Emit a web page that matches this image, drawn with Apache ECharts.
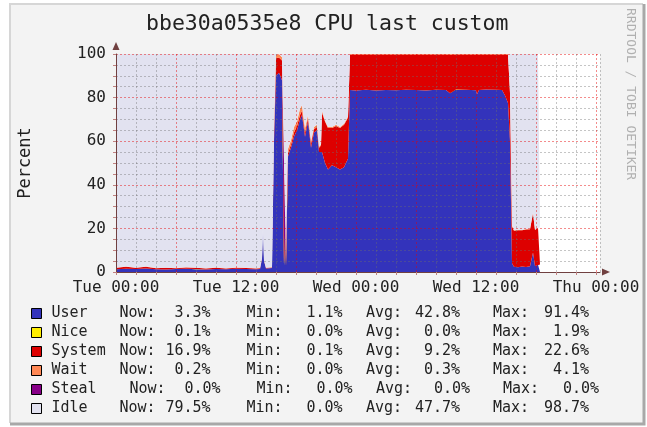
<!DOCTYPE html>
<html>
<head>
<meta charset="utf-8">
<script src="https://cdn.jsdelivr.net/npm/echarts@6/dist/echarts.min.js"></script>
<style>
  html, body, #main { width: 100%; height: 100%; margin: 0; }
</style>
</head>
<body>
<div id="main"></div>
<script>
// hours since Tue 00:00
var hours = [
  0, 1, 2, 3, 4, 5, 6, 7, 8, 9,
  10, 11, 12, 13, 14, 14.4, 14.6, 14.7, 14.8, 15.0,
  15.6, 15.8, 16.0, 16.3, 16.6, 16.8, 17.0, 17.2, 17.5, 17.8,
  18.1, 18.4, 18.6, 18.9, 19.2, 19.5, 19.8, 20.1, 20.3, 20.5,
  20.6, 20.9, 21.2, 21.6, 22.0, 22.4, 22.8, 23.1, 23.2, 23.4,
  24, 25, 26, 27, 28, 29, 30, 31, 32, 33,
  33.4, 33.8, 34, 35, 36, 36.1, 36.3, 37, 38, 38.6,
  38.9, 39.2, 39.4, 39.6, 39.8, 40.2, 40.6, 41.0, 41.4, 41.7,
  41.9, 42.2, 42.4
];
var user = [
  1.3, 1.5, 1.4, 1.6, 1.3, 1.2, 1.4, 1.5, 1.3, 1.2,
  1.4, 1.3, 1.5, 1.4, 1.3, 1.4, 6.0, 19.0, 5.0, 1.6,
  1.8, 60, 90, 91.4, 88, 3.0, 2.5, 53, 57, 62,
  65, 70, 72, 62, 69, 57, 64, 65, 55, 55,
  55, 50, 47, 49, 48, 47, 48, 51, 52, 83.5,
  83.2, 83.6, 83.3, 83.5, 83.4, 83.6, 83.5, 83.3, 83.6, 83.5,
  82.0, 83.5, 83.7, 83.6, 83.4, 81.5, 83.5, 83.7, 83.6, 83.5,
  81, 77.5, 60, 4, 2.4, 2.2, 2.5, 2.3, 2.6, 9,
  2.8, 3.3, 3.3
];
var nice = [
  0, 0, 0, 0, 0, 0, 0, 0, 0.1, 0,
  0, 0, 0, 0, 0, 0, 0, 0, 0, 0,
  0, 0, 0, 0, 0, 0, 0, 0, 0, 0,
  0, 0, 0, 0, 0, 0, 0, 0, 0, 0,
  0, 0, 0, 0, 0, 0, 0, 0, 0, 0,
  0, 0, 0, 0, 0, 0, 0, 0, 0, 0,
  0, 0, 0, 0, 0, 0, 0, 0, 0, 0,
  0, 0, 0, 0, 0, 0, 0, 0, 0, 0,
  0, 0.1, 0.1
];
var system = [
  0.6, 0.9, 0.5, 0.8, 0.4, 0.7, 0.3, 0.6, 0.5, 0.4,
  0.6, 0.3, 0.5, 0.4, 0.3, 0.3, 0.3, 0.4, 0.3, 0.3,
  0.3, 4, 8, 7, 9, 0.5, 0.4, 1.5, 1.5, 2,
  2, 2, 2, 2, 1.5, 2, 1.5, 1.5, 2, 3,
  18, 19, 19, 17, 19, 19, 19.5, 19, 19, 16.3,
  16.6, 16.2, 16.5, 16.3, 16.4, 16.2, 16.3, 16.5, 16.2, 16.3,
  17.7, 16.3, 16.1, 16.2, 16.4, 18.2, 16.3, 16.1, 16.2, 16.3,
  18.8, 22.3, 22, 17, 16.5, 17, 16.6, 17.2, 17, 18,
  16.5, 16.9, 16.9
];
var wait = [
  0.1, 0.1, 0.1, 0.1, 0.1, 0.1, 0.1, 0.1, 0.1, 0.1,
  0.1, 0.1, 0.1, 0.1, 0.1, 0.1, 0.1, 0.1, 0.1, 0.1,
  0.1, 1, 1.5, 1.6, 1.5, 0.2, 0.1, 2, 2, 2.5,
  2, 3, 2.5, 2, 1.5, 1, 1, 1, 0.5, 0.5,
  1, 0.5, 0.5, 0.5, 0.5, 0.5, 0.5, 0.5, 0.5, 0.2,
  0.2, 0.2, 0.2, 0.2, 0.2, 0.2, 0.2, 0.2, 0.2, 0.2,
  0.3, 0.2, 0.2, 0.2, 0.2, 0.3, 0.2, 0.2, 0.2, 0.2,
  0.2, 0.2, 0.5, 0.3, 0.2, 0.2, 0.2, 0.2, 0.2, 0.3,
  0.2, 0.2, 0.2
];
var steal = [
  0, 0, 0, 0, 0, 0, 0, 0, 0, 0,
  0, 0, 0, 0, 0, 0, 0, 0, 0, 0,
  0, 0, 0, 0, 0, 0, 0, 0, 0, 0,
  0, 0, 0, 0, 0, 0, 0, 0, 0, 0,
  0, 0, 0, 0, 0, 0, 0, 0, 0, 0,
  0, 0, 0, 0, 0, 0, 0, 0, 0, 0,
  0, 0, 0, 0, 0, 0, 0, 0, 0, 0,
  0, 0, 0, 0, 0, 0, 0, 0, 0, 0,
  0, 0, 0
];
var idle = [
  98.0, 97.5, 98.0, 97.5, 98.2, 98.0, 98.2, 97.8, 98.0, 98.3,
  97.9, 98.3, 97.9, 98.1, 98.3, 98.2, 93.6, 80.5, 94.6, 98.0,
  97.8, 35, 0.5, 0, 1.5, 96.3, 97.0, 43.5, 39.5, 33.5,
  31, 25, 23.5, 34, 28, 40, 33.5, 32.5, 42.5, 41.5,
  26, 30.5, 33.5, 33.5, 32.5, 33.5, 32, 29.5, 28.5, 0,
  0, 0, 0, 0, 0, 0, 0, 0, 0, 0,
  0, 0, 0, 0, 0, 0, 0, 0, 0, 0,
  0, 0, 17.5, 78.7, 80.9, 80.6, 80.7, 80.3, 80.2, 72.7,
  80.5, 79.5, 79.5
];

var xLabels = ['Tue 00:00', 'Tue 12:00', 'Wed 00:00', 'Wed 12:00', 'Thu 00:00'];
var names = ['User', 'Nice', 'System', 'Wait', 'Steal', 'Idle'];
var colors = ['#3333bb', '#ffee00', '#dd0000', '#ff8855', '#880088', '#e2e2f0'];
var stats = {
  User:   ['3.3%', '1.1%', '42.8%', '91.4%'],
  Nice:   ['0.1%', '0.0%', '0.0%', '1.9%'],
  System: ['16.9%', '0.1%', '9.2%', '22.6%'],
  Wait:   ['0.2%', '0.0%', '0.3%', '4.1%'],
  Steal:  ['0.0%', '0.0%', '0.0%', '0.0%'],
  Idle:   ['79.5%', '0.0%', '47.7%', '98.7%']
};

var chart = echarts.init(document.getElementById('main'));
var mono = '"DejaVu Sans Mono", monospace';
var seriesData = [user, nice, system, wait, steal, idle];

// value first, hour second, so the stack runs on the value dimension
function pairs(vals) {
  return hours.map(function (h, i) { return [vals[i], h]; });
}

var series = names.map(function (n, i) {
  return {
    name: n,
    type: 'line',
    stack: 'cpu',
    encode: { x: 1, y: 0 },
    data: pairs(seriesData[i]),
    showSymbol: false,
    symbol: 'none',
    lineStyle: { width: 0 },
    areaStyle: { color: colors[i], opacity: 1 },
    itemStyle: { color: colors[i] },
    z: 2
  };
});

// fixed-width legend columns, values right aligned by padding (mono font)
var rich = {
  p: { width: 5 },
  n: { width: 68 }, ns: { width: 78 },
  k1: { width: 46 }, v1: { width: 45 }, g1: { width: 36 },
  k2: { width: 51 }, v2: { width: 45 }, g2: { width: 23.5 },
  k3: { width: 49 }, v3: { width: 45 }, g3: { width: 33 },
  k4: { width: 51 }, v4: { width: 46 }
};
Object.keys(rich).forEach(function (k) {
  rich[k].lineHeight = 14;
  rich[k].fontSize = 15;
  rich[k].fontFamily = mono;
  rich[k].color = '#222';
});
function pad(s) { return ('     ' + s).slice(-5); }

var option = {
  animation: false,
  backgroundColor: '#ffffff',
  title: {
    text: 'bbe30a0535e8 CPU last custom',
    left: 141,
    top: 8,
    textStyle: { fontFamily: mono, fontSize: 21.5, fontWeight: 'normal', color: '#222' }
  },
  graphic: [
    { type: 'rect', z: -10, shape: { x: 10, y: 4, width: 633, height: 419 },
      style: { fill: '#f3f3f3' } },
    { type: 'polyline', z: -9, shape: { points: [[10, 423], [10, 4], [643, 4]] },
      style: { stroke: '#d6d6d6', lineWidth: 2, fill: null } },
    { type: 'polyline', z: -9, shape: { points: [[644, 4], [644, 424], [10, 424]] },
      style: { stroke: '#a8a8a8', lineWidth: 3, fill: null } },
    { type: 'text', x: 637, y: 8, rotation: -Math.PI / 2,
      style: { text: 'RRDTOOL / TOBI OETIKER', font: '13px ' + mono, fill: '#b0b0b0',
               textAlign: 'left', textVerticalAlign: 'top' } }
  ],
  grid: {
    left: 116, top: 54, width: 484, height: 218,
    show: true, backgroundColor: '#ffffff', borderWidth: 0
  },
  legend: {
    data: names,
    orient: 'vertical',
    left: 31,
    top: 306,
    padding: 0,
    itemWidth: 10,
    itemHeight: 10,
    itemGap: 4,
    icon: 'rect',
    selectedMode: false,
    itemStyle: { borderColor: '#000', borderWidth: 1 },
    textStyle: { fontFamily: mono, fontSize: 15, color: '#222', lineHeight: 14, rich: rich },
    formatter: function (name) {
      var s = stats[name];
      var n = name === 'Steal' ? 'ns' : 'n';
      return '{p| }{' + n + '|' + name + '}{k1|Now:}{v1|' + pad(s[0]) + '}{g1| }' +
        '{k2|Min:}{v2|' + pad(s[1]) + '}{g2| }{k3|Avg:}{v3|' + pad(s[2]) + '}{g3| }' +
        '{k4|Max:}{v4|' + pad(s[3]) + '}';
    }
  },
  xAxis: {
    type: 'value',
    min: 0,
    max: 48.4,
    interval: 2,
    z: 10,
    axisLine: { show: true, lineStyle: { color: '#704040', width: 1 },
                symbol: ['none', 'triangle'], symbolSize: [7, 8], symbolOffset: [0, 6] },
    axisTick: { show: true, length: 3, lineStyle: { color: '#c08080' } },
    axisLabel: {
      fontFamily: mono, fontSize: 16, color: '#222', margin: 8,
      showMaxLabel: false,
      formatter: function (v) { return v % 12 === 0 ? xLabels[v / 12] : ''; }
    },
    splitLine: {
      show: true,
      lineStyle: {
        color: ['rgba(230,0,0,0.45)', 'rgba(110,110,110,0.4)', 'rgba(110,110,110,0.4)'],
        type: [2, 2], width: 1
      }
    }
  },
  yAxis: {
    type: 'value',
    min: 0,
    max: 100,
    interval: 5,
    z: 10,
    name: 'Percent',
    nameLocation: 'middle',
    nameGap: 82,
    nameTextStyle: { fontFamily: mono, fontSize: 17, color: '#222' },
    axisLine: { show: true, lineStyle: { color: '#704040', width: 1 },
                symbol: ['none', 'triangle'], symbolSize: [7, 8], symbolOffset: [0, 8] },
    axisTick: { show: true, length: 3, lineStyle: { color: '#c08080' } },
    axisLabel: {
      fontFamily: mono, fontSize: 16, color: '#222', margin: 10,
      formatter: function (v) { return v % 20 === 0 ? String(v) : ''; }
    },
    splitLine: {
      show: true,
      lineStyle: {
        color: ['rgba(230,0,0,0.45)', 'rgba(110,110,110,0.4)', 'rgba(110,110,110,0.4)', 'rgba(110,110,110,0.4)'],
        type: [2, 2], width: 1
      }
    }
  },
  series: series
};

chart.setOption(option);
</script>
</body>
</html>
